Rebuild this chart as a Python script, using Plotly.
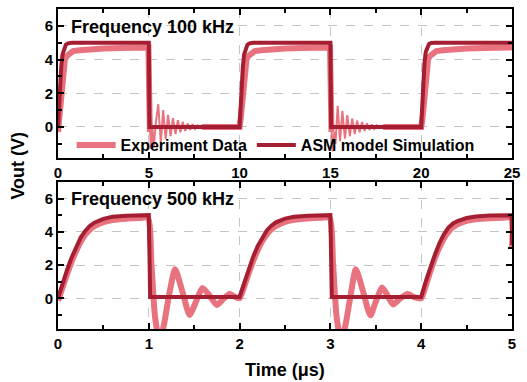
import plotly.graph_objects as go
from plotly.subplots import make_subplots

# ---------------- 100 kHz panel ----------------
t_sim_100 = [0, 0.05, 0.11, 0.18, 0.25, 0.33, 0.43, 0.55, 0.75, 5.0, 5.04,
             10.0, 10.05, 10.11, 10.18, 10.25, 10.33, 10.43, 10.55, 10.75, 15.0, 15.04,
             20.0, 20.05, 20.11, 20.18, 20.25, 20.33, 20.43, 20.55, 20.75, 25.0]
v_sim_100 = [0.0, 1.3, 2.5, 3.6, 4.3, 4.65, 4.88, 4.96, 5.0, 5.0, 0.0,
             0.0, 1.3, 2.5, 3.6, 4.3, 4.65, 4.88, 4.96, 5.0, 5.0, 0.0,
             0.0, 1.4, 2.6, 3.8, 4.45, 4.75, 4.92, 4.98, 5.0, 5.0]

# experiment: rise / plateau / low-level parts (thick noisy band)
t_exp_100 = [0, 0.07, 0.14, 0.22, 0.29, 0.38, 0.47, 0.65, 0.83, 1.2, 1.6, 2.5, 3.5, 4.5, 4.98, 5.03, 5.06, None,
             7.9, 8.5, 9.2, 10.0, 10.07, 10.14, 10.22, 10.29, 10.38, 10.47, 10.65, 10.83, 11.2, 11.6, 12.5, 13.5, 14.5, 14.98, 15.03, 15.06, None,
             17.9, 18.5, 19.3, 20.0, 20.07, 20.14, 20.22, 20.29, 20.38, 20.47, 20.65, 20.83, 21.2, 21.6, 22.5, 23.5, 24.5, 25.0]
v_exp_100 = [-0.3, 0.6, 1.5, 2.6, 3.5, 4.0, 4.2, 4.4, 4.5, 4.55, 4.6, 4.65, 4.68, 4.7, 4.72, 1.5, -0.3, None,
             0.0, 0.02, 0.0, 0.0, 0.6, 1.5, 2.6, 3.5, 4.0, 4.2, 4.4, 4.5, 4.55, 4.6, 4.65, 4.68, 4.7, 4.72, 1.5, -0.3, None,
             0.0, 0.02, 0.0, 0.0, 0.5, 1.3, 2.4, 3.4, 4.0, 4.2, 4.4, 4.5, 4.55, 4.6, 4.65, 4.68, 4.7, 4.72]

# experiment: ringing after each falling edge (thin trace)
t_ring_100 = [5.04, 5.12, 5.2, 5.28, 5.38, 5.52, 5.66, 5.79, 5.93, 6.06, 6.2, 6.33, 6.47, 6.6, 6.74, 6.87,
              7.01, 7.14, 7.28, 7.41, 7.55, 7.68, 7.82, 7.95, None,
              15.04, 15.12, 15.22, 15.28, 15.4, 15.53, 15.66, 15.8, 15.93, 16.07, 16.2, 16.34, 16.47, 16.61,
              16.74, 16.88, 17.01, 17.15, 17.28, 17.42, 17.55, 17.69, 17.82, 17.95]
v_ring_100 = [0.5, -1.3, -0.1, -1.15, 0.2, 1.35, -0.9, 1.0, -0.72, 0.72, -0.55, 0.52, -0.42, 0.4, -0.32, 0.3,
              -0.24, 0.22, -0.17, 0.16, -0.12, 0.1, -0.06, 0.04, None,
              0.5, -1.45, -0.3, -1.0, 1.25, -0.85, 0.95, -0.7, 0.7, -0.55, 0.5, -0.42, 0.38, -0.32,
              0.3, -0.24, 0.22, -0.17, 0.15, -0.12, 0.1, -0.06, 0.04, 0.0]

# ---------------- 500 kHz panel ----------------
t_sim_500 = [0, 0.05, 0.1, 0.15, 0.2, 0.25, 0.3, 0.35, 0.4, 0.5, 0.6, 0.75, 1.0, 1.015,
             2.0, 2.05, 2.1, 2.15, 2.2, 2.25, 2.3, 2.35, 2.4, 2.5, 2.6, 2.75, 3.0, 3.015,
             4.0, 4.05, 4.1, 4.15, 4.2, 4.25, 4.3, 4.35, 4.4, 4.5, 4.6, 4.75, 4.995, 5.0]
v_sim_500 = [0.0, 0.9, 1.7, 2.45, 3.1, 3.65, 4.05, 4.35, 4.55, 4.78, 4.9, 4.97, 5.0, 0.08,
             0.08, 0.95, 1.75, 2.5, 3.15, 3.68, 4.08, 4.37, 4.57, 4.79, 4.9, 4.97, 5.0, 0.08,
             0.08, 1.0, 1.85, 2.6, 3.3, 3.85, 4.25, 4.5, 4.65, 4.83, 4.92, 4.98, 5.0, 3.2]

t_exp_500 = [0, 0.05, 0.1, 0.15, 0.2, 0.25, 0.3, 0.35, 0.4, 0.5, 0.6, 0.75, 0.9, 0.99,
             1.03, 1.07, 1.12, 1.17, 1.22, 1.29, 1.37, 1.45, 1.52, 1.59, 1.67, 1.75, 1.82, 1.89, 1.95,
             2.0, 2.05, 2.1, 2.15, 2.2, 2.25, 2.3, 2.35, 2.4, 2.5, 2.6, 2.75, 2.9, 2.99,
             3.03, 3.07, 3.12, 3.17, 3.22, 3.28, 3.36, 3.44, 3.5, 3.57, 3.63, 3.69, 3.77, 3.85, 3.93,
             4.0, 4.05, 4.1, 4.15, 4.2, 4.25, 4.3, 4.35, 4.4, 4.5, 4.6, 4.75, 4.9, 4.995, 5.0]
v_exp_500 = [-0.15, 0.65, 1.45, 2.2, 2.85, 3.4, 3.82, 4.12, 4.33, 4.58, 4.71, 4.79, 4.83, 4.85,
             2.0, -1.2, -2.6, -1.5, 0.1, 1.75, 0.4, -1.0, -0.2, 0.62, 0.15, -0.4, -0.05, 0.25, 0.08,
             0.0, 0.7, 1.5, 2.25, 2.9, 3.45, 3.85, 4.15, 4.35, 4.6, 4.72, 4.8, 4.84, 4.85,
             2.0, -1.2, -2.6, -1.5, 0.1, 1.75, 0.4, -1.03, -0.2, 0.65, 0.15, -0.37, 0.0, 0.26, 0.05,
             0.0, 0.75, 1.6, 2.4, 3.05, 3.6, 4.0, 4.28, 4.45, 4.65, 4.75, 4.82, 4.85, 4.85, 3.0]

x_ticks_100 = [0, 5, 10, 15, 20, 25]
x_ticks_500 = [0, 1, 2, 3, 4, 5]
y_ticks = [0, 2, 4, 6]

PINK = "#E8737F"
RED = "#A51E32"
FONT = "Arial, Liberation Sans, sans-serif"

fig = make_subplots(rows=2, cols=1, vertical_spacing=0.0)

fig.add_trace(go.Scatter(x=t_exp_100, y=v_exp_100, mode="lines", name="Experiment Data", legend="legend",
                         line=dict(color=PINK, width=6), connectgaps=False), row=1, col=1)
fig.add_trace(go.Scatter(x=t_ring_100, y=v_ring_100, mode="lines", showlegend=False,
                         line=dict(color=PINK, width=2), connectgaps=False), row=1, col=1)
fig.add_trace(go.Scatter(x=t_sim_100, y=v_sim_100, mode="lines", name="ASM model Simulation", legend="legend2",
                         line=dict(color=RED, width=4)), row=1, col=1)

fig.add_trace(go.Scatter(x=t_exp_500, y=v_exp_500, mode="lines", showlegend=False,
                         line=dict(color=PINK, width=6, shape="spline", smoothing=0.6)), row=2, col=1)
fig.add_trace(go.Scatter(x=t_sim_500, y=v_sim_500, mode="lines", showlegend=False,
                         line=dict(color=RED, width=4)), row=2, col=1)

axis_common = dict(
    showline=True, linewidth=2, linecolor="black", mirror="ticks",
    ticks="inside", ticklen=6, tickwidth=2, tickcolor="black",
    showgrid=True, gridcolor="#c4c4c4", gridwidth=1, griddash="dash",
    zeroline=False,
    tickfont=dict(family=FONT, size=15, color="black", weight="bold"),
)

fig.update_xaxes(range=[0, 25], tickvals=x_ticks_100, ticktext=[str(v) for v in x_ticks_100],
                 minor=dict(dtick=2.5, tick0=0, ticks="inside", ticklen=4, tickwidth=2, tickcolor="black", showgrid=False),
                 domain=[0, 1], **axis_common, row=1, col=1)
fig.update_xaxes(range=[0, 5], tickvals=x_ticks_500, ticktext=[str(v) for v in x_ticks_500],
                 minor=dict(dtick=0.5, tick0=0, ticks="inside", ticklen=4, tickwidth=2, tickcolor="black", showgrid=False),
                 domain=[0, 1], **axis_common, row=2, col=1)
for r, dom in ((1, [0.534, 1.0]), (2, [0.0, 0.4596])):
    fig.update_yaxes(range=[-1.85, 7], tickvals=y_ticks, ticktext=[str(v) for v in y_ticks],
                     minor=dict(dtick=1, tick0=1, ticks="inside", ticklen=4, tickwidth=2, tickcolor="black", showgrid=False),
                     domain=dom, **axis_common, row=r, col=1)

fig.add_annotation(text="Frequency 100 kHz", xref="x domain", yref="y domain", x=0.024, y=0.88,
                   xanchor="left", yanchor="middle", showarrow=False,
                   font=dict(family=FONT, size=18, color="black", weight="bold"))
fig.add_annotation(text="Frequency 500 kHz", xref="x2 domain", yref="y2 domain", x=0.024, y=0.885,
                   xanchor="left", yanchor="middle", showarrow=False,
                   font=dict(family=FONT, size=18, color="black", weight="bold"))
fig.add_annotation(text="Vout (V)", xref="paper", yref="paper", x=-0.087, y=0.509, textangle=-90,
                   xanchor="center", yanchor="middle", showarrow=False,
                   font=dict(family=FONT, size=18, color="black", weight="bold"))
fig.add_annotation(text="Time (μs)", xref="paper", yref="paper", x=0.5, y=-0.127,
                   xanchor="center", yanchor="middle", showarrow=False,
                   font=dict(family=FONT, size=18, color="black", weight="bold"))

legend_common = dict(orientation="h", y=0.575, xanchor="left", yanchor="middle",
                     bgcolor="rgba(0,0,0,0)", font=dict(family=FONT, size=16, color="black", weight="bold"),
                     itemwidth=39)

fig.update_layout(
    width=527, height=382,
    margin=dict(l=58, r=8, t=7, b=53),
    paper_bgcolor="white", plot_bgcolor="white",
    showlegend=True,
    legend=dict(x=0.03, **legend_common),
    legend2=dict(x=0.427, **legend_common),
)

fig.write_html("out.html")
